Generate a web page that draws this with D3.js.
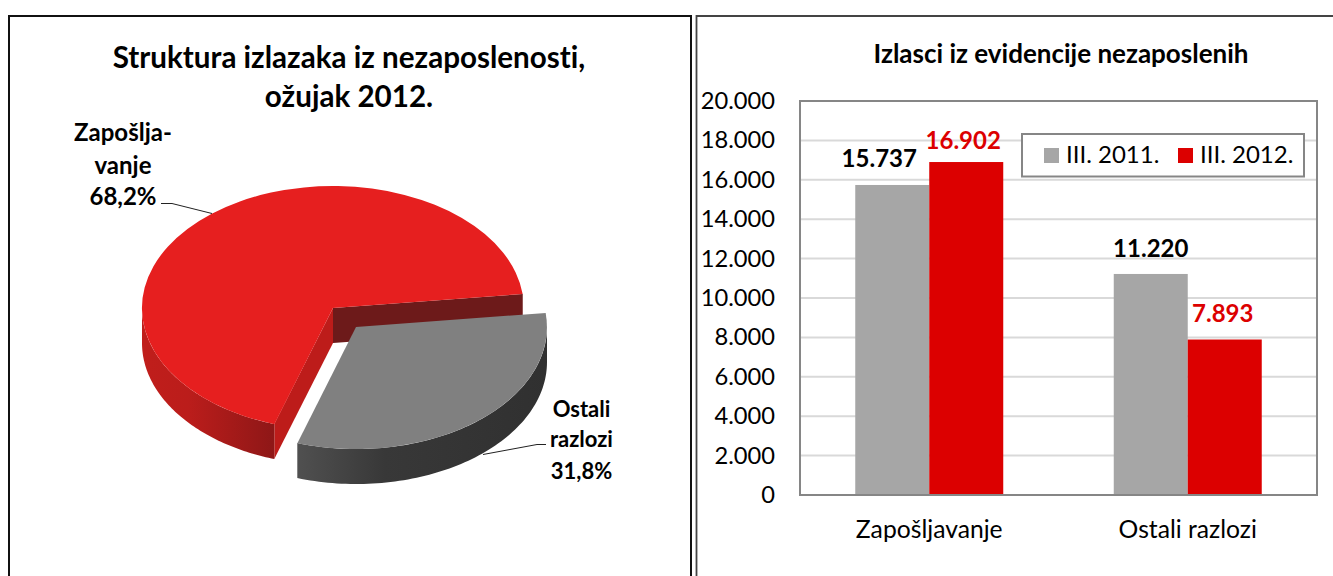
<!DOCTYPE html>
<html><head><meta charset="utf-8">
<script src="https://cdn.jsdelivr.net/npm/d3@7"></script>
<style>html,body{margin:0;padding:0;background:#fff}svg{display:block}text{font-family:Lato,sans-serif;fill:#000;font-variant-ligatures:none}</style>
</head><body><svg id="c" width="1333" height="576"></svg>
<script>
// ---- data ----
const pieTitle = ["Struktura izlazaka iz nezaposlenosti,", "ožujak 2012."];
const pieNames = ["Zapošljavanje", "Ostali razlozi"];
const pieValues = [68.2, 31.8];
const pieLabelLines = [["Zapošlja-", "vanje", "68,2%"], ["Ostali", "razlozi", "31,8%"]];
const barTitle = "Izlasci iz evidencije nezaposlenih";
const barCategories = ["Zapošljavanje", "Ostali razlozi"];
const seriesNames = ["III. 2011.", "III. 2012."];
const values2011 = [15737, 11220];
const values2012 = [16902, 7893];
const yTicks = [0, 2000, 4000, 6000, 8000, 10000, 12000, 14000, 16000, 18000, 20000];

// ---- helpers ----
const svg = d3.select("#c");
const fmt = v => d3.format(",")(v).replace(/,/g, ".");
const defs = svg.append("defs");
function grad(id, stops) {
  const g = defs.append("linearGradient").attr("id", id);
  stops.forEach(s => g.append("stop").attr("offset", s[0]).attr("stop-color", s[1]));
}
grad("redWall", [[0, "#c01e1b"], [0.35, "#bb1d1b"], [1, "#8e1717"]]);
grad("grayWall", [[0, "#505050"], [0.35, "#383838"], [1, "#303030"]]);

// ---- frames ----
const frame = svg.append("g").attr("fill", "none");
frame.append("path").attr("d", "M9,576V16H691V576").attr("stroke", "#111").attr("stroke-width", 2);
frame.append("path").attr("d", "M696.5,576V16H1333").attr("stroke", "#444").attr("stroke-width", 1.8);

// ---- pie ----
const titleG = svg.append("g").attr("text-anchor", "middle").attr("font-weight", 700).attr("font-size", 29.6);
pieTitle.forEach((t, i) => titleG.append("text").attr("x", 349).attr("y", 68 + i * 39).text(t));

const cx = 333, cy = 308, rx = 191, ry = 122, depth = 35;
const explode = [[0, 0], [23, 19]];
const deg = Math.PI / 180;
const arcs = d3.pie().sort(null).startAngle(197.9 * deg).endAngle(557.9 * deg)(pieValues);
const pt = (a, o, d) => [cx + o[0] + rx * Math.sin(a), cy + o[1] - ry * Math.cos(a) + d];
const line = d3.line();
const unit = d3.arc().innerRadius(0).outerRadius(1);
const topCol = ["#e61f1f", "#808080"], wallFill = ["url(#redWall)", "url(#grayWall)"];
const cutStart = "#bd1c1a", cutEnd = "#6d1a1a";

const g3 = svg.append("g");
function wall(a0, a1, o, fill) {
  const n = 80, as = d3.range(n + 1).map(i => a0 + (a1 - a0) * i / n);
  const pts = as.map(a => pt(a, o, 0)).concat(as.slice().reverse().map(a => pt(a, o, depth)));
  g3.append("path").attr("d", line(pts) + "Z").attr("fill", fill);
}
function cut(a, o, fill) {
  const p = pt(a, o, 0), c = [cx + o[0], cy + o[1]];
  g3.append("path").attr("d", line([c, p, [p[0], p[1] + depth], [c[0], c[1] + depth]]) + "Z").attr("fill", fill);
}
arcs.forEach((d, i) => {
  const o = explode[i];
  if (i === 0) {
    cut(d.endAngle, o, cutEnd);
    cut(d.startAngle, o, cutStart);
    wall(d.startAngle, 270 * deg, o, wallFill[0]);
  } else {
    wall(450 * deg, d.endAngle, o, wallFill[1]);
  }
  g3.append("path").attr("d", unit(d)).attr("fill", topCol[i])
    .attr("transform", `translate(${cx + o[0]},${cy + o[1]}) scale(${rx},${ry})`);
});

// leader lines
const leaders = svg.append("g").attr("fill", "none").attr("stroke", "#222").attr("stroke-width", 1);
leaders.append("path").attr("d", "M161,203.5H172L212,213.5");
leaders.append("path").attr("d", "M546,444.5H537L483,454.5");

const lblPos = [[123, [141, 174, 205], 24], [581.5, [417, 447, 479], 22]];
pieLabelLines.forEach((ls, i) => ls.forEach((t, j) => {
  svg.append("text").attr("x", lblPos[i][0]).attr("y", lblPos[i][1][j]).attr("text-anchor", "middle")
    .attr("font-weight", 700).attr("font-size", lblPos[i][2]).text(t);
}));

// ---- bars ----
const pl = 800, pr = 1317, pt0 = 101, pb = 495;
const x0 = d3.scaleBand().domain(barCategories).range([pl, pr]).paddingInner(0.4275).paddingOuter(0.21375);
const x1 = d3.scaleBand().domain(seriesNames).range([0, x0.bandwidth()]);
const y = d3.scaleLinear().domain([0, 20000]).range([pb, pt0]);
svg.append("text").attr("x", 1061).attr("y", 63).attr("text-anchor", "middle")
  .attr("font-weight", 700).attr("font-size", 26).text(barTitle);

const grid = svg.append("g");
grid.selectAll("line").data(yTicks.filter(t => t > 0 && t < 20000)).join("line")
  .attr("x1", pl).attr("x2", pr).attr("y1", y).attr("y2", y).attr("stroke", "#d9d9d9").attr("stroke-width", 2);
svg.append("rect").attr("x", pl).attr("y", pt0).attr("width", pr - pl).attr("height", pb - pt0)
  .attr("fill", "none").attr("stroke", "#868686").attr("stroke-width", 2);

const seriesVals = [values2011, values2012], barCol = ["#a6a6a6", "#dc0000"], lblCol = ["#000", "#dc0000"];
const lblOff = [[[-13, -18], [0, -17]], [[-3, -13], [-2, -18]]];
seriesNames.forEach((s, si) => {
  barCategories.forEach((c, ci) => {
    const v = seriesVals[si][ci];
    svg.append("rect").attr("x", x0(c) + x1(s)).attr("y", y(v)).attr("width", x1.bandwidth()).attr("height", pb - y(v)).attr("fill", barCol[si]);
  });
});
svg.append("path").attr("d", `M${pl},${pb}H${pr}`).attr("stroke", "#868686").attr("stroke-width", 2);
seriesNames.forEach((s, si) => {
  barCategories.forEach((c, ci) => {
    const v = seriesVals[si][ci], off = lblOff[si][ci];
    svg.append("text").attr("x", x0(c) + x1(s) + x1.bandwidth() / 2 + off[0]).attr("y", y(v) + off[1])
      .attr("text-anchor", "middle").attr("font-weight", 700).attr("font-size", 24)
      .style("fill", lblCol[si]).text(fmt(v));
  });
});
svg.append("g").selectAll("text").data(yTicks).join("text")
  .attr("x", 775).attr("y", d => y(d) + 8).attr("text-anchor", "end").attr("font-size", 23.7).text(fmt);
svg.append("g").selectAll("text").data(barCategories).join("text")
  .attr("x", d => x0(d) + x0.bandwidth() / 2).attr("y", 538).attr("text-anchor", "middle").attr("font-size", 24.7).text(d => d);

// legend
const lg = svg.append("g");
lg.append("rect").attr("x", 1022).attr("y", 134).attr("width", 282).attr("height", 42.5).attr("fill", "#fff").attr("stroke", "#868686").attr("stroke-width", 2);
const legX = [1044, 1178];
seriesNames.forEach((s, i) => {
  lg.append("rect").attr("x", legX[i]).attr("y", 148).attr("width", 15).attr("height", 15).attr("fill", barCol[i]);
  lg.append("text").attr("x", legX[i] + 22).attr("y", 163).attr("font-size", 24).text(s);
});
</script></body></html>
